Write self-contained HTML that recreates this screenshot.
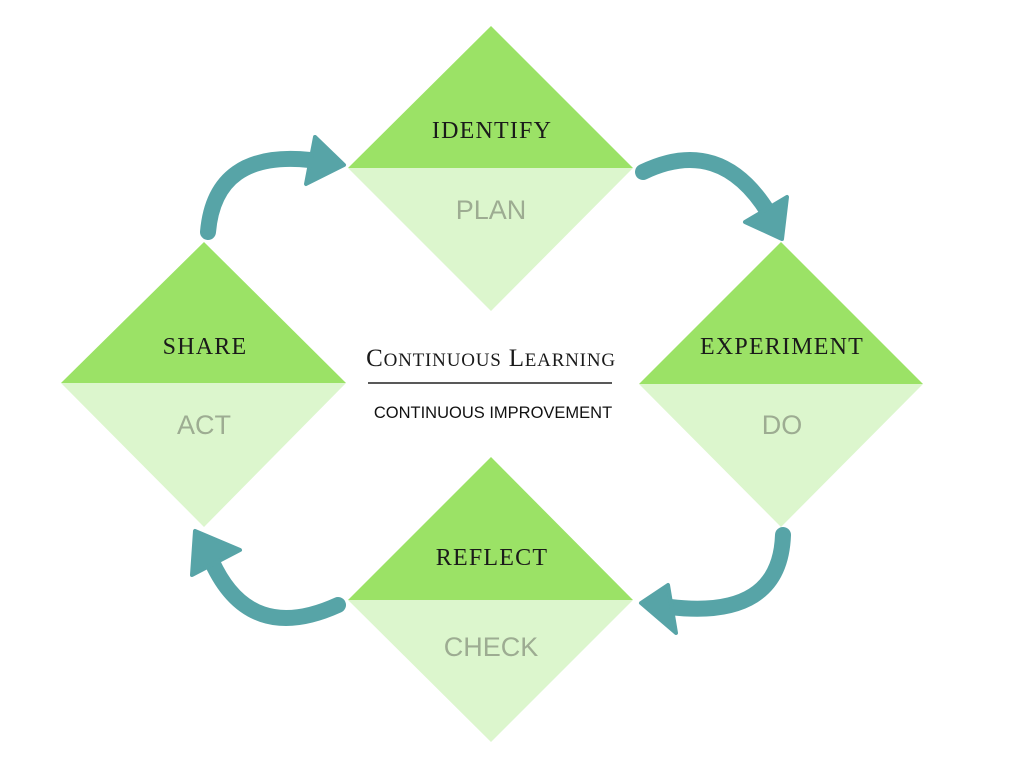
<!DOCTYPE html>
<html><head><meta charset="utf-8"><style>
html,body{margin:0;padding:0;background:#fff;}
</style></head><body>
<svg width="1024" height="768" viewBox="0 0 1024 768" xmlns="http://www.w3.org/2000/svg">
<g>
<polygon points="348,168 491,26 633,168" fill="#9be266"/>
<polygon points="348,168 491,311 633,168" fill="#dcf6cd"/>
<polygon points="639,384 781,242 923,384" fill="#9be266"/>
<polygon points="639,384 781,527 923,384" fill="#dcf6cd"/>
<polygon points="61,383 204,242 346,383" fill="#9be266"/>
<polygon points="61,383 204,527 346,383" fill="#dcf6cd"/>
<polygon points="348,600 491,457 633,600" fill="#9be266"/>
<polygon points="348,600 491,742 633,600" fill="#dcf6cd"/>
</g>
<g font-family="Liberation Serif, serif" font-size="24" fill="#1a1a1a" text-anchor="middle" letter-spacing="1.2">
<text x="492" y="138">IDENTIFY</text>
<text x="782" y="354">EXPERIMENT</text>
<text x="205" y="354">SHARE</text>
<text x="492" y="565">REFLECT</text>
</g>
<g font-family="Liberation Sans, sans-serif" font-size="27" fill="#9dac92" text-anchor="middle">
<text x="491" y="219">PLAN</text>
<text x="782" y="434">DO</text>
<text x="204" y="434">ACT</text>
<text x="491" y="656">CHECK</text>
</g>
<text x="491" y="366" text-anchor="middle" font-family="Liberation Serif, serif" font-size="25" fill="#1a1a1a" letter-spacing="0.8">C<tspan font-size="19">ONTINUOUS</tspan> L<tspan font-size="19">EARNING</tspan></text>
<line x1="368" y1="383" x2="612" y2="383" stroke="#222" stroke-width="1.5"/>
<text x="493" y="418" text-anchor="middle" font-family="Liberation Sans, sans-serif" font-size="16.5" fill="#111">CONTINUOUS IMPROVEMENT</text>
<g stroke="#57a4a7" stroke-width="16" stroke-linecap="round" fill="none">
<path d="M208,232 Q215,150 310,160"/>
<path d="M643,172 Q720,135 768,212"/>
<path d="M783,535 Q780,620 670,607"/>
<path d="M338,605 Q250,645 212,562"/>
</g>
<g fill="#57a4a7" stroke="#57a4a7" stroke-width="4" stroke-linejoin="round">
<polygon points="315,137 344,165 306,184"/>
<polygon points="745,222 787,197 782,239"/>
<polygon points="641,603 668,585 676,633"/>
<polygon points="195,531 192,575 240,550"/>
</g>
</svg>
</body></html>
